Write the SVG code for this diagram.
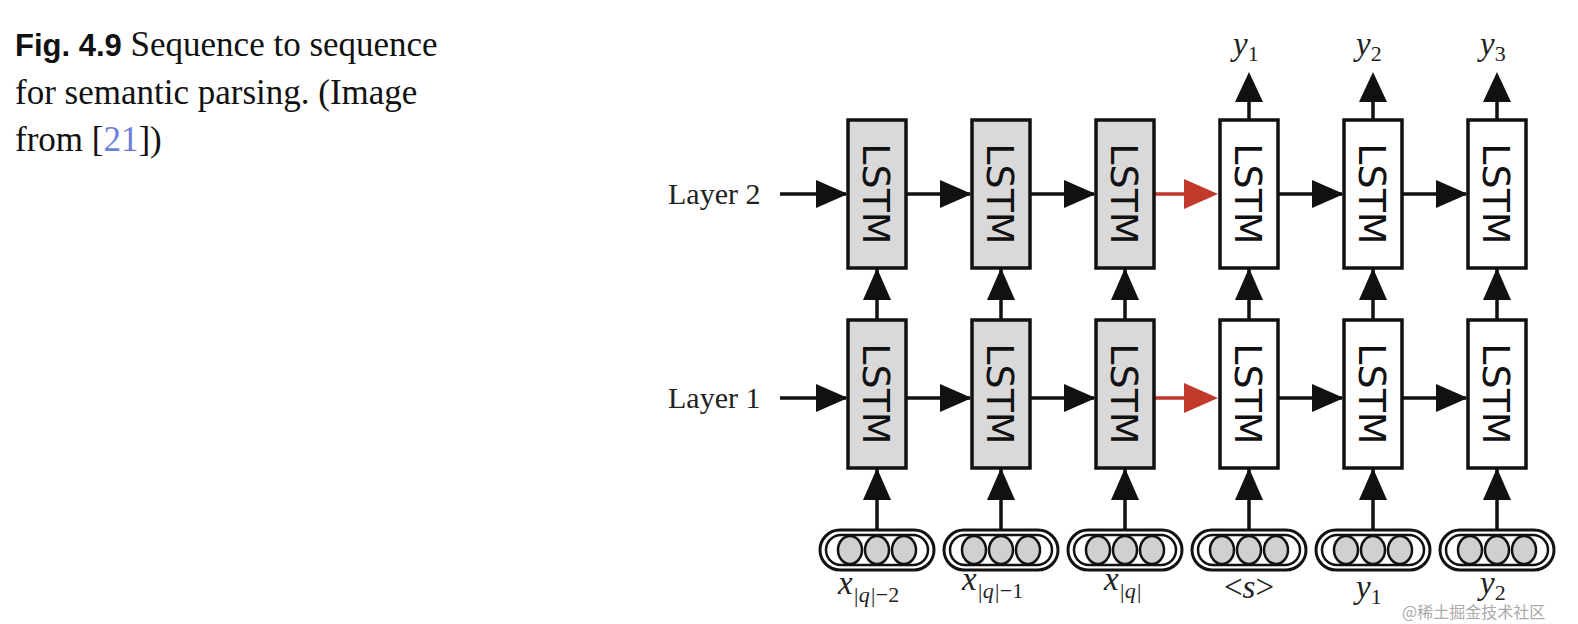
<svg xmlns="http://www.w3.org/2000/svg" width="1578" height="624" viewBox="0 0 1578 624">
<style>
.cap{font-family:"Liberation Serif",serif;font-size:35px;fill:#111}
.lay{font-family:"Liberation Serif",serif;font-size:30px;fill:#222}
.lstm{font-family:"DejaVu Sans",sans-serif;font-size:38px;fill:#111}
.box{stroke:#111;stroke-width:3.5}
.g{fill:#d9d9d9}.w{fill:#fff}
.math{font-family:"Liberation Serif",serif;font-style:italic;font-size:33px;fill:#222}
.sub{font-size:22px}
</style>
<defs>
<g id="lstmnode"><text class="lstm" transform="rotate(90)" x="74" y="-15" text-anchor="middle">LSTM</text></g>
<g id="pill"><rect x="-57" y="-20" width="114" height="40" rx="20" fill="#fff" stroke="#111" stroke-width="3"/><rect x="-51" y="-15" width="102" height="30" rx="15" fill="none" stroke="#111" stroke-width="2.5"/><g fill="#d0d0d0" stroke="#111" stroke-width="2.5"><ellipse cx="-27" cy="0" rx="12" ry="14"/><ellipse cx="0" cy="0" rx="12" ry="14"/><ellipse cx="27" cy="0" rx="12" ry="14"/></g></g>
</defs>
<rect width="1578" height="624" fill="#fff"/>
<g id="caption">
<text x="15" y="56" class="cap"><tspan font-family="Liberation Sans,sans-serif" font-weight="bold" font-size="31">Fig. 4.9</tspan>  Sequence to sequence</text>
<text x="15" y="104" class="cap">for semantic parsing.  (Image</text>
<text x="15" y="151" class="cap">from [<tspan fill="#6a7fd8">21</tspan>])</text>
</g>
<g id="labels">
<text x="668" y="204" class="lay">Layer 2</text>
<text x="668" y="408" class="lay">Layer 1</text>
</g>
<g id="connectors">
<g style="stroke:#111;stroke-width:3.5">
<line x1="780" y1="194" x2="846" y2="194"/><line x1="780" y1="398" x2="846" y2="398"/>
<line x1="906" y1="194" x2="970" y2="194"/><line x1="1030" y1="194" x2="1094" y2="194"/>
<line x1="1278" y1="194" x2="1342" y2="194"/><line x1="1402" y1="194" x2="1466" y2="194"/>
<line x1="906" y1="398" x2="970" y2="398"/><line x1="1030" y1="398" x2="1094" y2="398"/>
<line x1="1278" y1="398" x2="1342" y2="398"/><line x1="1402" y1="398" x2="1466" y2="398"/>
<line x1="877" y1="268" x2="877" y2="320"/><line x1="1001" y1="268" x2="1001" y2="320"/><line x1="1125" y1="268" x2="1125" y2="320"/><line x1="1249" y1="268" x2="1249" y2="320"/><line x1="1373" y1="268" x2="1373" y2="320"/><line x1="1497" y1="268" x2="1497" y2="320"/>
<line x1="877" y1="468" x2="877" y2="530"/><line x1="1001" y1="468" x2="1001" y2="530"/><line x1="1125" y1="468" x2="1125" y2="530"/><line x1="1249" y1="468" x2="1249" y2="530"/><line x1="1373" y1="468" x2="1373" y2="530"/><line x1="1497" y1="468" x2="1497" y2="530"/>
<line x1="1249" y1="120" x2="1249" y2="78"/><line x1="1373" y1="120" x2="1373" y2="78"/><line x1="1497" y1="120" x2="1497" y2="78"/>
</g>
<g style="stroke:#c0392b;stroke-width:3.5"><line x1="1154" y1="194" x2="1200" y2="194"/><line x1="1154" y1="398" x2="1200" y2="398"/></g>
<g fill="#111">
<path d="M816,180L848,194L816,208z"/><path d="M816,384L848,398L816,412z"/>
<path d="M940,180L972,194L940,208z"/><path d="M1064,180L1096,194L1064,208z"/><path d="M1312,180L1344,194L1312,208z"/><path d="M1436,180L1468,194L1436,208z"/>
<path d="M940,384L972,398L940,412z"/><path d="M1064,384L1096,398L1064,412z"/><path d="M1312,384L1344,398L1312,412z"/><path d="M1436,384L1468,398L1436,412z"/>
<g id="ups">
<path d="M863,300L877,268L891,300z"/><path d="M987,300L1001,268L1015,300z"/><path d="M1111,300L1125,268L1139,300z"/><path d="M1235,300L1249,268L1263,300z"/><path d="M1359,300L1373,268L1387,300z"/><path d="M1483,300L1497,268L1511,300z"/>
</g>
<use href="#ups" y="200"/>
<path d="M1235,102L1249,72L1263,102z"/><path d="M1359,102L1373,72L1387,102z"/><path d="M1483,102L1497,72L1511,102z"/>
</g>
<g fill="#c0392b"><path d="M1184,179L1218,194L1184,209z"/><path d="M1184,383L1218,398L1184,413z"/></g>
</g>
<g id="n-enc1-l2"><rect class="box g" x="848" y="120" width="58" height="148"/><use href="#lstmnode" x="848" y="120"/></g>
<g id="n-enc2-l2"><rect class="box g" x="972" y="120" width="58" height="148"/><use href="#lstmnode" x="972" y="120"/></g>
<g id="n-enc3-l2"><rect class="box g" x="1096" y="120" width="58" height="148"/><use href="#lstmnode" x="1096" y="120"/></g>
<g id="n-dec1-l2"><rect class="box w" x="1220" y="120" width="58" height="148"/><use href="#lstmnode" x="1220" y="120"/></g>
<g id="n-dec2-l2"><rect class="box w" x="1344" y="120" width="58" height="148"/><use href="#lstmnode" x="1344" y="120"/></g>
<g id="n-dec3-l2"><rect class="box w" x="1468" y="120" width="58" height="148"/><use href="#lstmnode" x="1468" y="120"/></g>
<g id="n-enc1-l1"><rect class="box g" x="848" y="320" width="58" height="148"/><use href="#lstmnode" x="848" y="320"/></g>
<g id="n-enc2-l1"><rect class="box g" x="972" y="320" width="58" height="148"/><use href="#lstmnode" x="972" y="320"/></g>
<g id="n-enc3-l1"><rect class="box g" x="1096" y="320" width="58" height="148"/><use href="#lstmnode" x="1096" y="320"/></g>
<g id="n-dec1-l1"><rect class="box w" x="1220" y="320" width="58" height="148"/><use href="#lstmnode" x="1220" y="320"/></g>
<g id="n-dec2-l1"><rect class="box w" x="1344" y="320" width="58" height="148"/><use href="#lstmnode" x="1344" y="320"/></g>
<g id="n-dec3-l1"><rect class="box w" x="1468" y="320" width="58" height="148"/><use href="#lstmnode" x="1468" y="320"/></g>
<g id="inputs">
<use href="#pill" x="877" y="550"/><use href="#pill" x="1001" y="550"/><use href="#pill" x="1125" y="550"/><use href="#pill" x="1249" y="550"/><use href="#pill" x="1373" y="550"/><use href="#pill" x="1497" y="550"/>
</g>
<g id="outlabels" class="math">
<text x="1233" y="55">y<tspan class="sub" dy="6" font-style="normal">1</tspan></text>
<text x="1356" y="55">y<tspan class="sub" dy="6" font-style="normal">2</tspan></text>
<text x="1480" y="55">y<tspan class="sub" dy="6" font-style="normal">3</tspan></text>
</g>
<g id="inlabels" class="math">
<text x="838" y="594">x<tspan class="sub" dy="8">|q|</tspan><tspan class="sub" font-style="normal">−2</tspan></text>
<text x="962" y="590">x<tspan class="sub" dy="8">|q|</tspan><tspan class="sub" font-style="normal">−1</tspan></text>
<text x="1104" y="590">x<tspan class="sub" dy="8">|q|</tspan></text>
<text x="1249" y="598" text-anchor="middle" font-style="normal">&lt;<tspan font-style="italic">s</tspan>&gt;</text>
<text x="1356" y="598">y<tspan class="sub" dy="6" font-style="normal">1</tspan></text>
<text x="1480" y="594">y<tspan class="sub" dy="6" font-style="normal">2</tspan></text>
</g>
<text x="1402" y="618" font-family="'Noto Sans CJK SC',sans-serif" font-size="16" fill="#aaa">@稀土掘金技术社区</text>
</svg>
